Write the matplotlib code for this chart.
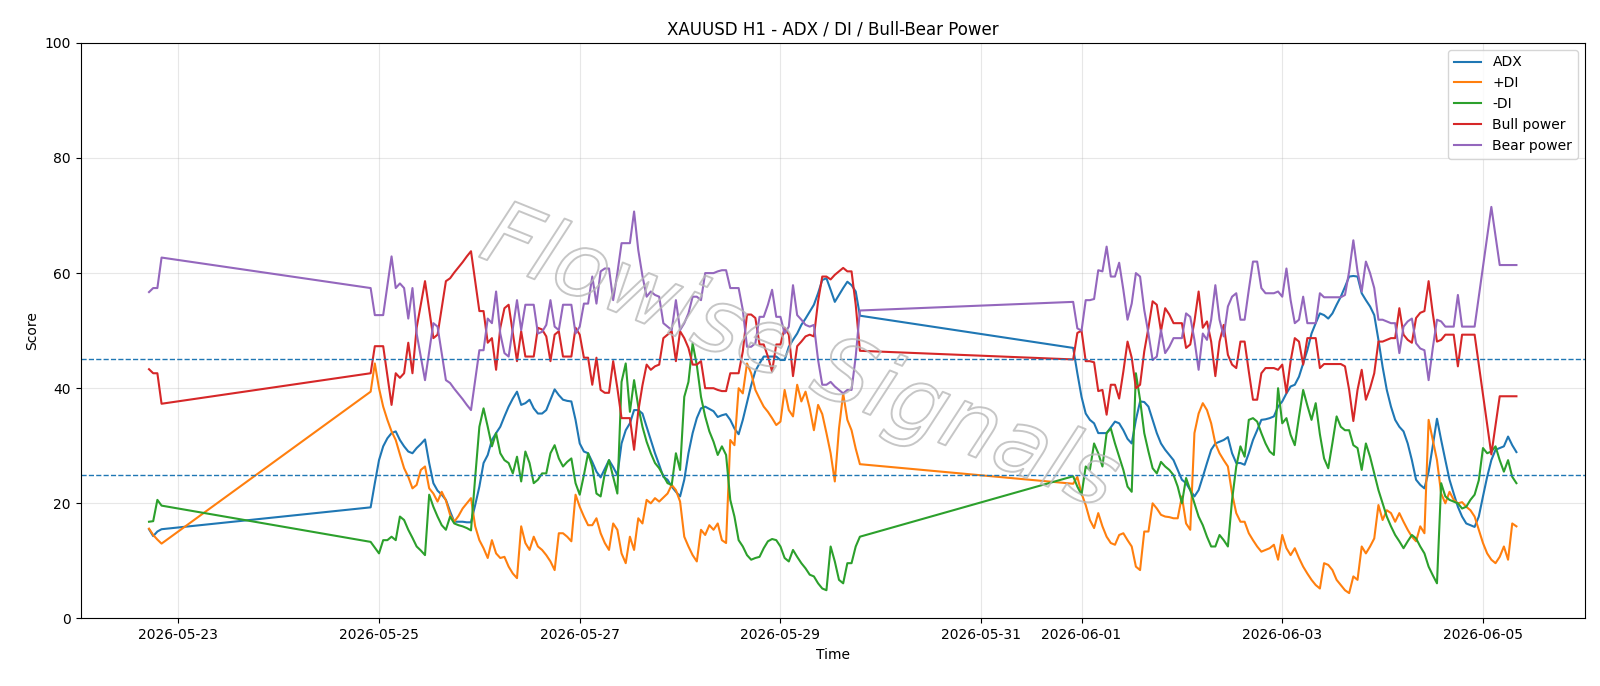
import matplotlib
matplotlib.use("Agg")
import matplotlib.pyplot as plt
import matplotlib.dates as mdates
import matplotlib.patheffects as pe
import pandas as pd

# hourly bars, three trading stretches (weekend gaps are simply joined by the line)
seg_bounds = [("2026-05-22 17:00", "2026-05-22 20:00"),
              ("2026-05-24 22:00", "2026-05-29 19:00"),
              ("2026-05-31 22:00", "2026-06-05 08:00")]

adx = [15.5, 14.3, 15.1, 15.5,
       19.3, 23.5, 27.5, 29.9, 31.3, 32.2, 32.5, 31.0, 29.9, 29.0, 28.7, 29.6, 30.3, 31.1, 27.0, 23.5, 22.2, 21.5, 20.6, 18.6, 16.8, 16.8, 16.8, 16.7,
       16.7, 19.7, 22.9, 27.0, 28.4, 31.0, 32.2, 33.3, 35.1, 36.8, 38.2, 39.4, 37.1, 37.4, 38.0, 36.5, 35.6, 35.6, 36.2, 38.0, 39.8, 38.8, 38.0,
       37.8, 37.7, 34.5, 30.4, 29.0, 28.7, 27.2, 25.5, 24.5, 26.0, 27.5, 26.3, 24.9, 30.4, 32.7, 33.9, 36.2, 36.2, 35.6, 33.3, 31.0, 28.7, 26.7,
       24.6, 24.1, 22.9, 22.0, 21.2, 24.1, 28.7, 32.2, 34.8, 36.5, 36.8, 36.4, 36.0, 35.0, 35.3, 35.5, 34.5, 33.0, 32.0, 34.5, 37.5, 40.5, 43.0,
       44.3, 45.5, 45.5, 45.5, 45.5, 44.9, 44.9, 47.2, 48.4, 49.5, 51.0, 52.1, 53.3, 54.5, 56.5, 58.8, 59.1, 57.1, 55.0, 56.2, 57.4, 58.5, 57.9, 56.8, 52.6,
       47.0, 42.6, 38.5, 35.6, 34.5, 33.9, 32.2, 32.2, 32.2, 33.2, 34.2, 33.9, 32.7, 31.2, 30.4, 34.5, 37.7, 37.6, 36.8, 34.5, 32.2, 30.4, 29.3, 28.4, 27.5,
       25.8, 24.1, 23.5, 22.3, 21.2, 22.3, 24.6, 27.0, 29.3, 30.4, 30.7, 31.0, 31.5, 28.7, 27.0, 27.0, 26.7, 28.7, 31.0, 32.7, 34.5, 34.6, 34.8, 35.1, 36.8,
       37.7, 39.1, 40.3, 40.6, 42.0, 44.3, 46.6, 49.5, 51.3, 53.0, 52.7, 52.1, 53.0, 54.5, 55.9, 57.6, 59.4, 59.5, 59.4, 56.5, 55.3, 54.2, 52.7, 48.4, 43.7,
       39.7, 36.8, 34.5, 33.3, 32.5, 30.4, 27.5, 24.1, 23.2, 22.6, 25.5, 30.0, 34.7, 31.0, 27.5, 24.1, 21.7, 19.4, 17.7, 16.5, 16.2, 15.9, 17.7, 21.2, 24.6,
       27.5, 29.3, 29.6, 29.9, 31.6, 30.1, 28.9]

plus_di = [15.6, 14.5, 13.7, 13.0,
           39.4, 44.3, 40.0, 36.8, 34.5, 32.5, 31.0, 28.5, 26.1, 24.6, 22.6, 23.2, 25.8, 26.4, 22.6, 21.7, 20.3, 22.0, 20.5, 18.0, 16.8, 17.8, 19.1, 20.0,
           20.9, 16.0, 13.6, 12.2, 10.5, 13.6, 11.3, 10.5, 10.7, 9.0, 7.8, 7.0, 16.0, 13.1, 11.9, 14.2, 12.5, 11.9, 11.0, 9.9, 8.4, 14.8, 14.8,
           14.2, 13.4, 21.5, 19.4, 17.7, 16.2, 16.2, 17.4, 14.8, 13.1, 11.9, 16.5, 15.4, 11.3, 9.6, 14.2, 11.9, 17.4, 16.5, 20.6, 20.0, 20.9, 20.3,
           21.0, 21.7, 23.2, 22.3, 20.3, 14.2, 12.5, 11.0, 9.9, 15.4, 14.5, 16.2, 15.4, 16.5, 13.6, 13.1, 31.0, 30.1, 40.0, 39.1, 44.3, 42.6, 39.7,
           38.2, 36.8, 35.9, 34.8, 33.6, 34.2, 39.7, 36.2, 35.1, 40.6, 37.7, 39.4, 36.5, 32.7, 37.1, 35.5, 32.2, 28.7, 23.8, 33.0, 39.1, 34.5, 32.7, 29.5, 26.8,
           23.4, 24.6, 21.7, 19.7, 17.1, 15.7, 18.3, 16.0, 14.2, 13.1, 12.8, 14.5, 14.8, 13.6, 12.5, 9.0, 8.4, 15.1, 15.1, 20.0, 19.1, 18.0, 17.7, 17.6, 17.4,
           17.4, 21.2, 16.5, 15.4, 32.2, 35.6, 37.4, 36.2, 33.9, 30.4, 28.7, 27.5, 26.4, 21.7, 18.3, 16.8, 16.8, 14.8, 13.6, 12.5, 11.6, 11.9, 12.2, 12.8, 10.2,
           14.5, 12.2, 11.0, 12.2, 10.5, 9.0, 7.8, 6.7, 5.8, 5.2, 9.6, 9.3, 8.4, 6.7, 5.8, 4.9, 4.4, 7.3, 6.7, 12.5, 11.3, 12.5, 13.9, 19.7, 17.1,
           18.8, 18.3, 16.8, 18.3, 16.8, 15.4, 14.2, 13.4, 16.0, 14.8, 34.5, 31.0, 27.5, 21.7, 20.0, 22.0, 20.6, 20.0, 20.2, 19.4, 18.8, 17.7, 15.4, 13.1, 11.3,
           10.2, 9.6, 10.7, 12.5, 10.2, 16.5, 16.0]

minus_di = [16.8, 16.9, 20.6, 19.6,
            13.3, 12.3, 11.3, 13.6, 13.6, 14.2, 13.6, 17.7, 17.1, 15.4, 14.0, 12.5, 11.8, 11.0, 21.5, 19.4, 17.7, 16.2, 15.4, 17.7, 16.5, 16.2, 16.0, 15.7,
            15.3, 24.5, 33.3, 36.5, 33.3, 29.9, 32.2, 28.7, 27.5, 27.0, 25.2, 28.1, 23.8, 29.0, 27.0, 23.5, 24.1, 25.2, 25.2, 28.7, 30.1, 27.8, 26.4,
            27.2, 27.8, 23.5, 21.5, 24.9, 28.7, 26.4, 21.7, 21.2, 25.2, 27.5, 24.6, 21.7, 41.1, 44.3, 35.9, 41.4, 36.8, 33.3, 30.7, 28.7, 27.0, 26.1,
            24.8, 23.5, 23.2, 28.7, 25.8, 38.5, 41.1, 47.8, 44.0, 38.5, 35.1, 32.5, 30.7, 28.4, 29.9, 28.4, 20.6, 17.7, 13.6, 12.5, 11.0, 10.2, 10.5,
            10.7, 12.2, 13.4, 13.8, 13.6, 12.5, 10.5, 9.9, 11.9, 10.7, 9.6, 8.7, 7.6, 7.3, 6.1, 5.2, 4.9, 12.5, 9.9, 6.7, 6.1, 9.6, 9.6, 12.5, 14.2,
            24.7, 22.9, 21.5, 26.4, 25.8, 30.4, 28.7, 26.4, 32.2, 33.0, 30.4, 28.1, 25.8, 22.9, 22.0, 42.6, 38.0, 32.2, 29.0, 26.1, 25.2, 27.2, 26.4, 25.8, 24.9,
            22.9, 20.0, 24.4, 22.3, 20.0, 17.7, 16.2, 14.2, 12.5, 12.5, 14.5, 13.6, 12.5, 20.6, 26.4, 29.9, 28.1, 34.5, 34.8, 34.2, 32.2, 30.4, 29.0, 28.4, 40.0,
            33.9, 34.8, 31.9, 30.1, 35.0, 39.7, 37.0, 34.5, 37.4, 32.0, 27.8, 26.1, 30.5, 35.1, 33.3, 32.7, 32.7, 30.1, 29.6, 25.8, 30.4, 28.1, 25.2, 22.3, 20.0,
            17.7, 16.0, 14.5, 13.4, 12.2, 13.4, 14.5, 13.9, 12.5, 11.3, 9.0, 7.5, 6.1, 23.5, 21.2, 20.6, 20.3, 20.0, 19.1, 19.4, 20.6, 21.5, 24.0, 29.6, 28.7,
            29.0, 29.9, 27.5, 25.5, 27.5, 24.6, 23.5]

bull_power = [43.3, 42.6, 42.6, 37.3,
              42.6, 47.3, 47.3, 47.3, 42.2, 37.1, 42.6, 41.8, 42.6, 47.9, 42.6, 50.5, 54.5, 58.6, 53.6, 48.7, 49.3, 53.9, 58.6, 59.1, 60.1, 61.0, 61.9, 62.9,
              63.8, 58.6, 53.4, 53.4, 47.9, 48.7, 43.2, 50.5, 53.9, 54.5, 49.6, 44.7, 49.9, 45.5, 45.5, 45.5, 50.5, 50.2, 49.0, 44.7, 49.3, 49.9, 45.5,
              45.5, 45.5, 50.5, 49.3, 45.3, 45.3, 40.6, 45.3, 39.7, 39.2, 39.2, 44.7, 40.0, 34.8, 34.8, 34.8, 29.3, 36.0, 40.5, 44.1, 43.2, 43.8, 44.1,
              48.7, 49.3, 49.9, 44.7, 49.9, 48.7, 47.0, 44.1, 44.1, 44.7, 40.0, 40.0, 40.0, 39.7, 39.5, 39.5, 42.6, 42.6, 42.6, 46.4, 52.8, 52.8, 52.2,
              47.6, 47.6, 45.5, 42.9, 47.6, 47.6, 50.5, 49.3, 42.1, 47.3, 48.1, 49.0, 49.3, 49.0, 55.1, 59.4, 59.4, 58.9, 59.7, 60.3, 60.9, 60.3, 60.3, 54.5, 46.5,
              45.0, 49.6, 50.0, 44.7, 44.7, 44.5, 39.5, 39.7, 35.4, 40.6, 40.6, 38.2, 42.9, 48.1, 45.3, 40.0, 40.6, 46.4, 50.5, 55.1, 54.5, 49.9, 53.9, 52.8, 51.3,
              51.3, 51.3, 47.0, 47.6, 51.6, 56.8, 50.5, 51.6, 48.1, 42.1, 48.1, 51.0, 45.8, 44.1, 43.5, 48.1, 48.1, 42.9, 38.0, 38.0, 42.6, 43.5, 43.5, 43.5, 43.2,
              44.1, 39.2, 44.7, 48.7, 48.1, 44.1, 48.7, 48.7, 48.7, 43.5, 44.2, 44.2, 44.2, 44.2, 44.2, 43.8, 39.7, 34.3, 39.7, 43.2, 38.0, 40.0, 42.6, 48.1, 48.1,
              48.4, 48.7, 48.7, 53.9, 49.3, 48.4, 47.9, 52.2, 53.1, 53.4, 58.6, 53.0, 48.1, 48.4, 49.3, 49.3, 49.3, 43.8, 49.3, 49.3, 49.3, 49.3, 44.1, 38.9, 33.7,
              28.5, 33.5, 38.6, 38.6, 38.6, 38.6, 38.6]

bear_power = [56.7, 57.4, 57.4, 62.7,
              57.4, 52.7, 52.7, 52.7, 57.8, 62.9, 57.4, 58.2, 57.4, 52.1, 57.4, 49.5, 45.5, 41.4, 46.4, 51.3, 50.7, 46.1, 41.4, 40.9, 39.9, 39.0, 38.1, 37.1,
              36.2, 41.4, 46.6, 46.6, 52.1, 51.3, 56.8, 49.5, 46.1, 45.5, 50.4, 55.3, 50.1, 54.5, 54.5, 54.5, 49.5, 49.8, 51.0, 55.3, 50.7, 50.1, 54.5,
              54.5, 54.5, 49.5, 50.7, 54.7, 54.7, 59.4, 54.7, 60.3, 60.8, 60.8, 55.3, 60.0, 65.2, 65.2, 65.2, 70.7, 64.0, 59.5, 55.9, 56.8, 56.2, 55.9,
              51.3, 50.7, 50.1, 55.3, 50.1, 51.3, 53.0, 55.9, 55.9, 55.3, 60.0, 60.0, 60.0, 60.3, 60.5, 60.5, 57.4, 57.4, 57.4, 53.6, 47.2, 47.2, 47.8,
              52.4, 52.4, 54.5, 57.1, 52.4, 52.4, 49.5, 50.7, 57.9, 52.7, 51.9, 51.0, 50.7, 51.0, 44.9, 40.6, 40.6, 41.1, 40.3, 39.7, 39.1, 39.7, 39.7, 45.5, 53.5,
              55.0, 50.4, 50.0, 55.3, 55.3, 55.5, 60.5, 60.3, 64.6, 59.4, 59.4, 61.8, 57.1, 51.9, 54.7, 60.0, 59.4, 53.6, 49.5, 44.9, 45.5, 50.1, 46.1, 47.2, 48.7,
              48.7, 48.7, 53.0, 52.4, 48.4, 43.2, 49.5, 48.4, 51.9, 57.9, 51.9, 49.0, 54.2, 55.9, 56.5, 51.9, 51.9, 57.1, 62.0, 62.0, 57.4, 56.5, 56.5, 56.5, 56.8,
              55.9, 60.8, 55.3, 51.3, 51.9, 55.9, 51.3, 51.3, 51.3, 56.5, 55.8, 55.8, 55.8, 55.8, 55.8, 56.2, 60.3, 65.7, 60.3, 56.8, 62.0, 60.0, 57.4, 51.9, 51.9,
              51.6, 51.3, 51.3, 46.1, 50.7, 51.6, 52.1, 47.8, 46.9, 46.6, 41.4, 47.0, 51.9, 51.6, 50.7, 50.7, 50.7, 56.2, 50.7, 50.7, 50.7, 50.7, 55.9, 61.1, 66.3,
              71.5, 66.5, 61.4, 61.4, 61.4, 61.4, 61.4]

adx_levels = [45, 25]

times = pd.DatetimeIndex([])
for start, end in seg_bounds:
    times = times.append(pd.date_range(start, end, freq="h"))

fig = plt.figure(figsize=(16, 6.86), dpi=100)
ax = fig.add_axes([0.0504, 0.0985, 0.9401, 0.839])

ax.plot(times, adx, label="ADX", lw=1.5)
ax.plot(times, plus_di, label="+DI", lw=1.5)
ax.plot(times, minus_di, label="-DI", lw=1.5)
ax.plot(times, bull_power, label="Bull power", lw=1.5)
ax.plot(times, bear_power, label="Bear power", lw=1.5)
for lvl in adx_levels:
    ax.axhline(lvl, color="C0", ls="--", lw=1)

ax.set_ylim(0, 100)
ax.xaxis.set_major_formatter(mdates.DateFormatter("%Y-%m-%d"))
ax.grid(True, alpha=0.3)
ax.set_title("XAUUSD H1 - ADX / DI / Bull-Bear Power", fontsize=12)
ax.set_xlabel("Time")
ax.set_ylabel("Score")
ax.legend(loc="upper right")

# hollow watermark across the middle
ax.text(0.478, 0.45, "Flowise Signals", transform=ax.transAxes, fontsize=64,
        fontstyle="italic", fontweight="light", color=(1, 1, 1, 0), rotation=-22,
        ha="center", va="center", zorder=10,
        path_effects=[pe.withStroke(linewidth=1.4, foreground=(0.72, 0.72, 0.72, 0.8))])

fig.savefig("out.png", dpi=100)
